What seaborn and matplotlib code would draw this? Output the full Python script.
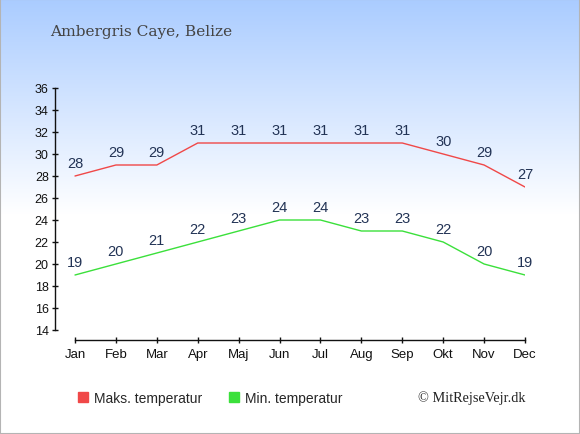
import numpy as np
import matplotlib
matplotlib.use("Agg")
import matplotlib.pyplot as plt
import seaborn as sns
import pandas as pd
from matplotlib.lines import Line2D
from matplotlib.patches import Rectangle

# Monthly temperatures, Ambergris Caye
months = ["Jan", "Feb", "Mar", "Apr", "Maj", "Jun", "Jul", "Aug", "Sep", "Okt", "Nov", "Dec"]
max_temp = [28, 29, 29, 31, 31, 31, 31, 31, 31, 30, 29, 27]
min_temp = [19, 20, 21, 22, 23, 24, 24, 23, 23, 22, 20, 19]
y_ticks = list(range(14, 37, 2))

df = pd.DataFrame({"idx": range(len(months)), "max": max_temp, "min": min_temp})

sns.set_style("ticks")
plt.rcParams['font.family'] = ['Liberation Sans', 'DejaVu Sans']

W, H = 580, 435
fig = plt.figure(figsize=(W / 100, H / 100), dpi=100)

# gradient background
bg = fig.add_axes([0, 0, 1, 1], zorder=0)
top = np.array([170, 204, 255]) / 255
rows = np.clip(np.arange(H) / 215.0, 0, 1)[:, None]
col = top * (1 - rows) + rows
img = np.repeat(col[:, None, :], 2, axis=1)
bg.imshow(img, aspect="auto", extent=[0, 1, 0, 1])
bg.axis("off")
fig.patches.append(Rectangle((0, 0), 1, 1, transform=fig.transFigure,
                             fill=False, edgecolor="#b4b4b4", linewidth=1.5))

# plot area
ax = fig.add_axes([55 / W, (H - 341) / H, (525 - 55) / W, (341 - 89) / H], zorder=1)
ax.patch.set_alpha(0)
red, green = "#f04848", "#3be03b"
sns.lineplot(data=df, x="idx", y="max", ax=ax, color=red, linewidth=1.0)
sns.lineplot(data=df, x="idx", y="min", ax=ax, color=green, linewidth=1.0)

for i, v in enumerate(max_temp):
    ax.annotate(str(v), (i, v), xytext=(0, 4.5), textcoords="offset points",
                ha="center", va="bottom", fontsize=10.5, color="#223355")
for i, v in enumerate(min_temp):
    ax.annotate(str(v), (i, v), xytext=(0, 4.5), textcoords="offset points",
                ha="center", va="bottom", fontsize=10.5, color="#223355")

ax.set_xlim(-20 / (450 / 11), 11)
ax.set_ylim(14 - 10 / 11, 36)
ax.set_xticks(range(len(months)))
ax.set_xticklabels(months)
ax.set_yticks(y_ticks)
ax.set_xlabel("")
ax.set_ylabel("")
ax.tick_params(axis="both", direction="inout", length=5, width=1, colors="#111111", pad=2)
ax.tick_params(axis="x", labelsize=9.5, pad=3)
ax.tick_params(axis="y", labelsize=9)
for s in ["top", "right"]:
    ax.spines[s].set_visible(False)
for s in ["left", "bottom"]:
    ax.spines[s].set_color("#111111")
    ax.spines[s].set_linewidth(1)
ax.spines["left"].set_bounds(14, 36)
ax.spines["bottom"].set_bounds(0, 11)

# title
fig.text(50 / W, 1 - 32 / H, "Ambergris Caye, Belize", family="DejaVu Serif",
         fontsize=11.1, color="#444444", va="center")

# legend
handles = [Line2D([], [], marker="s", linestyle="none", color=red, markersize=7.5),
           Line2D([], [], marker="s", linestyle="none", color=green, markersize=7.5)]
fig.legend(handles, ["Maks. temperatur", "Min. temperatur"], loc="center left",
           bbox_to_anchor=(77 / W, 1 - 399 / H), ncol=2, frameon=False,
           fontsize=10, handlelength=0.8, handletextpad=0.4, columnspacing=1.9,
           borderaxespad=0, borderpad=0)
fig.text(418 / W, 1 - 398 / H, "© MitRejseVejr.dk", family="Liberation Serif",
         fontsize=10.3, color="#222222", va="center")

fig.savefig("out.png", dpi=100)
